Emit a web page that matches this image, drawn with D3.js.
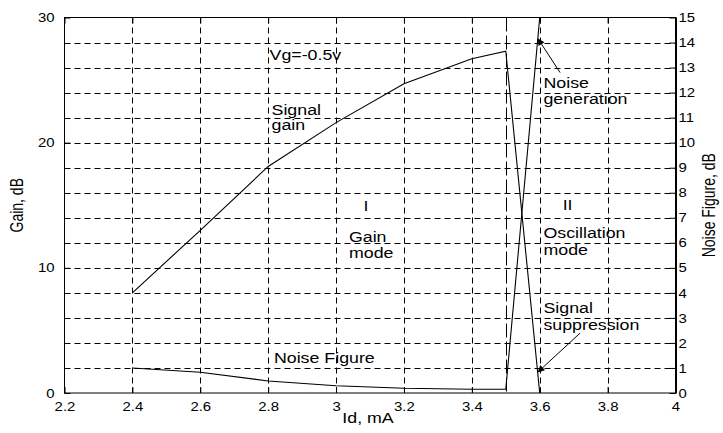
<!DOCTYPE html>
<html>
<head>
<meta charset="utf-8">
<script src="https://cdn.jsdelivr.net/npm/d3@7/dist/d3.min.js"></script>
<style>
  html, body { margin: 0; padding: 0; background: #fff; }
  svg { display: block; }
  text { font-family: "Liberation Sans", Arial, sans-serif; fill: #000; }
</style>
</head>
<body>
<svg id="chart" width="723" height="433"></svg>
<script>
// ---------------- data ----------------
const xTickValues = [2.2, 2.4, 2.6, 2.8, 3.0, 3.2, 3.4, 3.6, 3.8, 4.0];
const xTickLabels = ["2.2", "2.4", "2.6", "2.8", "3", "3.2", "3.4", "3.6", "3.8", "4"];
const gainTickValues = [0, 10, 20, 30];
const nfTickValues = [0, 1, 2, 3, 4, 5, 6, 7, 8, 9, 10, 11, 12, 13, 14, 15];

// Signal gain (dB) vs drain current Id (mA)
const gainId    = [2.4, 2.6, 2.8, 3.0, 3.2, 3.4, 3.5, 3.6];
const gainValue = [8.0, 13.0, 18.1, 21.6, 24.7, 26.7, 27.3, 0.0];

// Noise figure (dB) vs drain current Id (mA)
const nfId    = [2.4, 2.6, 2.8, 3.0, 3.2, 3.4, 3.5, 3.6];
const nfValue = [1.0, 0.83, 0.48, 0.29, 0.19, 0.15, 0.15, 15.0];

// region boundary (mA)
const boundaryId = [3.5];

// annotations: text, Id (mA), gain (dB) of baseline, anchor
const noteText   = ["Vg=-0.5v", "Signal", "gain", "I", "Gain", "mode", "Noise Figure",
                    "Noise", "generation", "II", "Oscillation", "mode", "Signal", "suppression"];
const noteId     = [2.804, 2.81, 2.81, 3.088, 3.038, 3.038, 2.817,
                    3.611, 3.611, 3.682, 3.611, 3.611, 3.611, 3.611];
const noteGain   = [26.6, 22.2, 21.0, 14.54, 12.09, 10.76, 2.37,
                    24.4, 23.1, 14.6, 12.36, 11.0, 6.39, 5.03];
const noteAnchor = ["start", "start", "start", "middle", "start", "start", "start",
                    "start", "start", "middle", "start", "start", "start", "start"];

// arrows: from (Id, gain) to (Id, gain)
const arrowFromId   = [3.66, 3.719];
const arrowFromGain = [25.6, 4.79];
const arrowToId     = [3.595, 3.595];
const arrowToGain   = [28.3, 1.68];

// ---------------- layout ----------------
const W = 723, H = 433;
const mLeft = 64.5, mRight = 675.5, mTop = 17.5, mBottom = 393;
const SX = 1.27;      // horizontal stretch of the text glyphs
const TSX = 1.15;

const svg = d3.select("#chart");

const x = d3.scaleLinear().domain([2.2, 4.0]).range([mLeft, mRight]);
const yG = d3.scaleLinear().domain([0, 30]).range([mBottom, mTop]);
const yN = d3.scaleLinear().domain([0, 15]).range([mBottom, mTop]);

const defs = svg.append("defs");
defs.append("clipPath").attr("id", "plotclip")
  .append("rect").attr("x", mLeft).attr("y", mTop - 1)
  .attr("width", mRight - mLeft).attr("height", mBottom - mTop + 1);
defs.append("marker").attr("id", "arrowhead")
  .attr("viewBox", "0 0 10 10").attr("refX", 9).attr("refY", 5)
  .attr("markerWidth", 9).attr("markerHeight", 7)
  .attr("markerUnits", "userSpaceOnUse")
  .attr("orient", "auto")
  .append("path").attr("d", "M0,0 L10,5 L0,10 Z").attr("fill", "#000");

// ---------------- grid ----------------
const grid = svg.append("g").attr("stroke", "#000").attr("stroke-width", 1)
  .attr("stroke-dasharray", "6,4").attr("fill", "none");
grid.selectAll("line.v").data(xTickValues.slice(1, -1)).join("line").attr("class", "v")
  .attr("x1", d => Math.round(x(d)) + 0.5).attr("x2", d => Math.round(x(d)) + 0.5)
  .attr("y1", mTop).attr("y2", mBottom);
grid.selectAll("line.h").data(nfTickValues.slice(1, -1)).join("line").attr("class", "h")
  .attr("x1", mLeft).attr("x2", mRight)
  .attr("y1", d => Math.round(yN(d)) + 0.5).attr("y2", d => Math.round(yN(d)) + 0.5);

// boundary long-dash line
svg.append("g").selectAll("line").data(boundaryId).join("line")
  .attr("x1", d => Math.round(x(d)) + 0.5).attr("x2", d => Math.round(x(d)) + 0.5)
  .attr("y1", mTop).attr("y2", mBottom)
  .attr("stroke", "#000").attr("stroke-width", 1).attr("stroke-dasharray", "14,4");

// ---------------- axes ----------------
function stretchTicks(g, sx) {
  g.selectAll(".tick text").each(function() {
    const t = d3.select(this);
    const tx = +t.attr("x") || 0;
    t.attr("transform", `translate(${tx},0) scale(${sx},1) translate(${-tx},0)`);
  });
}

const xAxis = d3.axisBottom(x).tickValues(xTickValues)
  .tickFormat((d, i) => xTickLabels[i]).tickSizeInner(-6).tickSizeOuter(0).tickPadding(9);
const gx = svg.append("g").attr("transform", `translate(0,${mBottom})`).call(xAxis);
const xTopAxis = d3.axisTop(x).tickValues(xTickValues).tickFormat("").tickSizeInner(-6).tickSizeOuter(0);
const gxt = svg.append("g").attr("transform", `translate(0,${mTop})`).call(xTopAxis);

const yAxisL = d3.axisLeft(yG).tickValues(gainTickValues).tickFormat(d3.format("d"))
  .tickSizeInner(-6).tickSizeOuter(0).tickPadding(10);
const gyl = svg.append("g").attr("transform", `translate(${mLeft},0)`).call(yAxisL);

const yAxisR = d3.axisRight(yN).tickValues(nfTickValues).tickFormat(d3.format("d"))
  .tickSizeInner(-6).tickSizeOuter(0).tickPadding(3);
const gyr = svg.append("g").attr("transform", `translate(${mRight},0)`).call(yAxisR);

[gx, gxt, gyl, gyr].forEach(g => {
  g.selectAll(".domain").remove();
  g.selectAll(".tick line").attr("stroke", "#000");
  g.selectAll(".tick text").attr("font-size", 13)
    .attr("font-family", "Liberation Sans, Arial, sans-serif").attr("fill", "#000");
});
stretchTicks(gx, TSX);
stretchTicks(gyl, TSX);
stretchTicks(gyr, TSX);

// frame
svg.append("rect").attr("x", mLeft).attr("y", mTop)
  .attr("width", mRight - mLeft).attr("height", mBottom - mTop)
  .attr("fill", "none").attr("stroke", "#000").attr("stroke-width", 1);
svg.append("line").attr("x1", mRight + 0.5).attr("x2", mRight + 0.5)
  .attr("y1", mTop).attr("y2", mBottom + 0.5).attr("stroke", "#000").attr("stroke-width", 2);

// axis titles
svg.append("text").attr("font-size", 14).attr("text-anchor", "middle")
  .attr("transform", `translate(${(mLeft + mRight) / 2 - 2},${H - 10}) scale(${SX},1)`)
  .text("Id, mA");
svg.append("text").attr("font-size", 14).attr("text-anchor", "middle")
  .attr("transform", `translate(23,${(mTop + mBottom) / 2}) scale(${SX},1) rotate(-90)`)
  .text("Gain, dB");
svg.append("text").attr("font-size", 14).attr("text-anchor", "middle")
  .attr("transform", `translate(715,${(mTop + mBottom) / 2}) scale(${SX},1) rotate(-90)`)
  .text("Noise Figure, dB");

// ---------------- series ----------------
const plot = svg.append("g").attr("clip-path", "url(#plotclip)");
const lineG = d3.line().x(d => x(d[0])).y(d => yG(d[1]));
const lineN = d3.line().x(d => x(d[0])).y(d => yN(d[1]));

plot.append("path").datum(gainId.map((d, i) => [d, gainValue[i]]))
  .attr("d", lineG).attr("fill", "none").attr("stroke", "#000").attr("stroke-width", 1.1);
plot.append("path").datum(nfId.map((d, i) => [d, nfValue[i]]))
  .attr("d", lineN).attr("fill", "none").attr("stroke", "#000").attr("stroke-width", 1.1);

// ---------------- annotations ----------------
const notes = svg.append("g").attr("font-size", 14);
noteText.forEach((t, i) => {
  notes.append("text")
    .attr("text-anchor", noteAnchor[i])
    .attr("transform", `translate(${x(noteId[i])},${yG(noteGain[i])}) scale(${SX},1)`)
    .text(t);
});
arrowFromId.forEach((d, i) => {
  svg.append("line")
    .attr("x1", x(d)).attr("y1", yG(arrowFromGain[i]))
    .attr("x2", x(arrowToId[i])).attr("y2", yG(arrowToGain[i]))
    .attr("stroke", "#000").attr("stroke-width", 1)
    .attr("marker-end", "url(#arrowhead)");
});
</script>
</body>
</html>
